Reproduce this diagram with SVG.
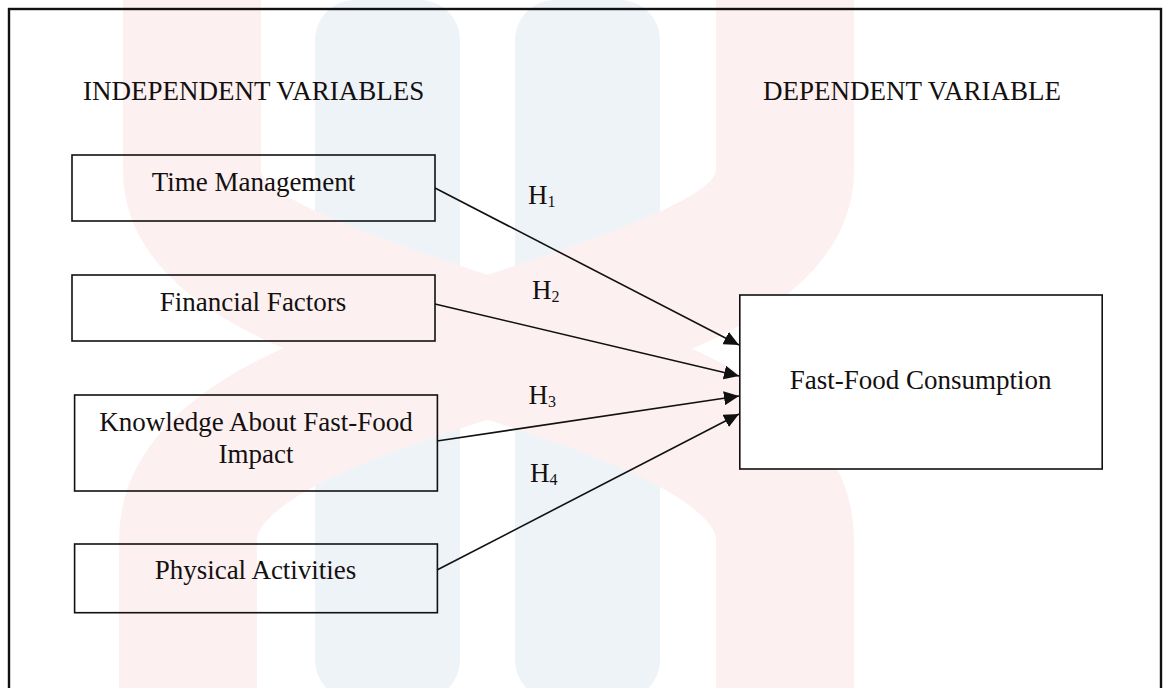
<svg xmlns="http://www.w3.org/2000/svg" width="1168" height="688" viewBox="0 0 1168 688">
  <style>
    .box { fill: none; stroke: #111; stroke-width: 1.6; }
    .lbl { font-family: "Liberation Serif", "Times New Roman", serif; font-size: 27px; fill: #141010; }
    .mid { text-anchor: middle; }
    .conn { stroke: #111; stroke-width: 1.6; fill: none; marker-end: url(#arrow); }
    .wm-blue { fill: #eef3f8; }
    .wm-pink { fill: none; stroke: #fdf0f0; stroke-width: 138; }
  </style>
  <defs>
    <marker id="arrow" markerUnits="userSpaceOnUse" markerWidth="16" markerHeight="14" refX="15" refY="7" orient="auto">
      <path d="M0,0 L15,7 L0,14 Z" fill="#111"/>
    </marker>
  </defs>
  <rect x="0" y="0" width="1168" height="688" fill="#ffffff"/>
  <g id="watermark">
    <rect class="wm-blue" x="315" y="0" width="145" height="700" rx="40"/>
    <rect class="wm-blue" x="515" y="0" width="145" height="700" rx="40"/>
    <path class="wm-pink" d="M192,-20 L192,170 C192,340 785,350 785,540 L785,720"/>
    <path class="wm-pink" d="M785,-20 L785,170 C785,340 188,350 188,540 L188,720"/>
  </g>
  <rect id="frame" x="9" y="9" width="1152" height="710" fill="none" stroke="#111" stroke-width="2.4"/>
  <g id="headers">
    <text class="lbl mid" x="253.7" y="100">INDEPENDENT VARIABLES</text>
    <text class="lbl mid" x="912" y="100">DEPENDENT VARIABLE</text>
  </g>
  <g id="connectors">
    <line class="conn" x1="435" y1="188" x2="739" y2="345"/>
    <line class="conn" x1="435" y1="304" x2="739" y2="376"/>
    <line class="conn" x1="437" y1="441" x2="739" y2="396"/>
    <line class="conn" x1="437" y1="570" x2="739" y2="414"/>
    <text class="lbl" x="528" y="204">H<tspan font-size="16" dy="3">1</tspan></text>
    <text class="lbl" x="532" y="299.3">H<tspan font-size="16" dy="3">2</tspan></text>
    <text class="lbl" x="528.5" y="404">H<tspan font-size="16" dy="3">3</tspan></text>
    <text class="lbl" x="530" y="482">H<tspan font-size="16" dy="3">4</tspan></text>
  </g>
  <g id="node-time">
    <rect class="box" x="72" y="155" width="363" height="66"/>
    <text class="lbl mid" x="253.5" y="191">Time Management</text>
  </g>
  <g id="node-financial">
    <rect class="box" x="72" y="275" width="363" height="66"/>
    <text class="lbl mid" x="253" y="310.7">Financial Factors</text>
  </g>
  <g id="node-knowledge">
    <rect class="box" x="74.6" y="395" width="362.8" height="96"/>
    <text class="lbl mid" x="256" y="430.7">Knowledge About Fast-Food</text>
    <text class="lbl mid" x="256" y="463.3">Impact</text>
  </g>
  <g id="node-physical">
    <rect class="box" x="74.6" y="544" width="362.8" height="68.7"/>
    <text class="lbl mid" x="255.5" y="578.7">Physical Activities</text>
  </g>
  <g id="node-consumption">
    <rect class="box" x="739.8" y="295" width="362.4" height="174" style="fill:#ffffff"/>
    <text class="lbl mid" x="920.6" y="388.7">Fast-Food Consumption</text>
  </g>
</svg>
